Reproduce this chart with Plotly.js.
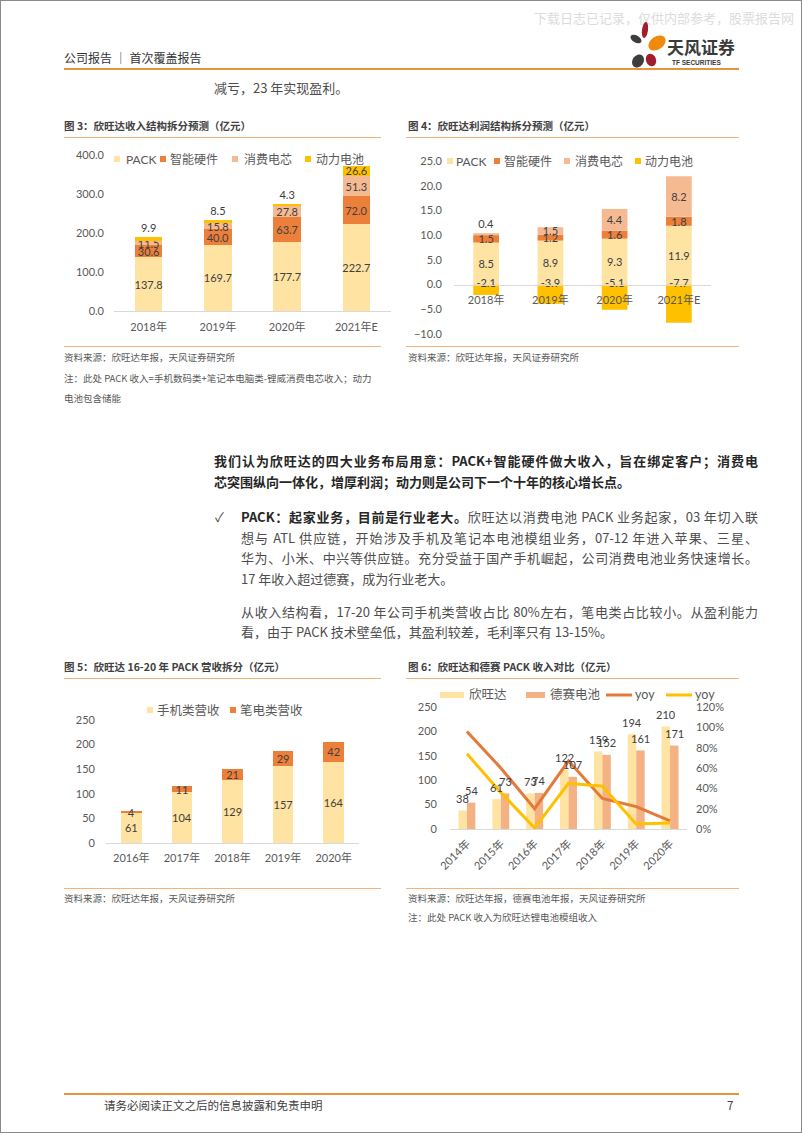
<!DOCTYPE html>
<html><head><meta charset="utf-8">
<script src="https://cdn.plot.ly/plotly-3.0.1.min.js"></script>
<style>
html,body{margin:0;padding:0;background:#fff;}
#page{position:relative;width:802px;height:1133px;overflow:hidden;box-sizing:border-box;border:1px solid #8a8a8a;font-family:"Noto Sans CJK SC",sans-serif;background:#fff;}
.abs{position:absolute;white-space:nowrap;}
.rule{position:absolute;height:1px;background:#F3B27E;}
.ftitle{font-size:10.5px;line-height:11px;font-weight:bold;color:#404040;}
.src{font-size:9.5px;line-height:9.5px;color:#595959;}
.txt{font-size:13px;line-height:13px;color:#4d4d4d;}
.bold{font-weight:bold;color:#262626;}
.j{text-align:justify;text-align-last:justify;}
.chart{position:absolute;}
</style></head>
<body>
<div id="page">
  <div class="abs" style="left:533px;top:10px;font-size:13px;line-height:13px;color:#dcdcdc;">下载日志已记录，仅供内部参考，股票报告网</div>
  <div class="abs" style="left:63px;top:51px;font-size:12px;line-height:12px;color:#333;">公司报告 ｜ 首次覆盖报告</div>
  <svg class="abs" style="left:626px;top:20px" width="45" height="52" viewBox="0 0 45 52">
    <ellipse cx="9" cy="18" rx="6" ry="3.6" fill="#3d3d3d" transform="rotate(30 9 18)"/>
    <ellipse cx="18" cy="9" rx="3" ry="8" fill="#a01d2d" transform="rotate(8 18 9)"/>
    <ellipse cx="30" cy="22" rx="9.5" ry="6.5" fill="#f08a0f" transform="rotate(-35 30 22)"/>
    <ellipse cx="11" cy="40" rx="5.5" ry="7" fill="#3d3d3d" transform="rotate(35 11 40)"/>
    <ellipse cx="24" cy="39" rx="5" ry="6.5" fill="#a01d2d" transform="rotate(-20 24 39)"/>
  </svg>
  <div class="abs" style="left:666px;top:37px;font-size:17px;line-height:17px;font-weight:bold;color:#3a3a3a;">天风证券</div>
  <div class="abs" style="left:671px;top:58px;font-size:6.5px;line-height:7px;font-weight:bold;color:#3a3a3a;font-family:'Liberation Sans',sans-serif;">TF SECURITIES</div>
  <div class="abs" style="left:63px;top:67px;width:675px;height:2px;background:#E8923A;"></div>
  <div class="abs txt" style="left:213px;top:80px;">减亏，23 年实现盈利。</div>

  <!-- figure 3 -->
  <div class="abs ftitle" style="left:63px;top:119px;">图 3：欣旺达收入结构拆分预测（亿元）</div>
  <div class="rule" style="left:63px;top:136px;width:317px;"></div>
  <div id="c3" class="chart" style="left:60px;top:140px;width:335px;height:200px;"></div>
  <div class="rule" style="left:63px;top:345px;width:317px;"></div>
  <div class="abs src" style="left:63px;top:352px;">资料来源：欣旺达年报，天风证券研究所</div>
  <div class="abs src" style="left:63px;top:373px;">注：此处 PACK 收入=手机数码类+笔记本电脑类-锂威消费电芯收入；动力</div>
  <div class="abs src" style="left:63px;top:393px;">电池包含储能</div>

  <!-- figure 4 -->
  <div class="abs ftitle" style="left:407px;top:119px;">图 4：欣旺达利润结构拆分预测（亿元）</div>
  <div class="rule" style="left:405px;top:136px;width:333px;"></div>
  <div id="c4" class="chart" style="left:398px;top:140px;width:340px;height:205px;"></div>
  <div class="rule" style="left:405px;top:345px;width:333px;"></div>
  <div class="abs src" style="left:407px;top:352px;">资料来源：欣旺达年报，天风证券研究所</div>

  <!-- body text -->
  <div class="abs txt bold j" style="left:213px;top:453px;width:544px;">我们认为欣旺达的四大业务布局用意：PACK+智能硬件做大收入，旨在绑定客户；消费电</div>
  <div class="abs txt bold" style="left:213px;top:474px;">芯突围纵向一体化，增厚利润；动力则是公司下一个十年的核心增长点。</div>
  <div class="abs txt" style="left:214px;top:509px;">✓</div>
  <div class="abs txt j" style="left:240px;top:509px;width:517px;"><span class="bold">PACK：起家业务，目前是行业老大。</span>欣旺达以消费电池 PACK 业务起家，03 年切入联</div>
  <div class="abs txt j" style="left:240px;top:530px;width:517px;">想与 ATL 供应链，开始涉及手机及笔记本电池模组业务，07-12 年进入苹果、三星、</div>
  <div class="abs txt j" style="left:240px;top:550px;width:517px;">华为、小米、中兴等供应链。充分受益于国产手机崛起，公司消费电池业务快速增长。</div>
  <div class="abs txt" style="left:240px;top:571px;">17 年收入超过德赛，成为行业老大。</div>
  <div class="abs txt j" style="left:240px;top:604px;width:517px;">从收入结构看，17-20 年公司手机类营收占比 80%左右，笔电类占比较小。从盈利能力</div>
  <div class="abs txt" style="left:240px;top:624px;">看，由于 PACK 技术壁垒低，其盈利较差，毛利率只有 13-15%。</div>

  <!-- figure 5 -->
  <div class="abs ftitle" style="left:63px;top:660px;">图 5：欣旺达 16-20 年 PACK 营收拆分（亿元）</div>
  <div class="rule" style="left:63px;top:677px;width:317px;"></div>
  <div id="c5" class="chart" style="left:60px;top:680px;width:305px;height:200px;"></div>
  <div class="rule" style="left:63px;top:887px;width:317px;"></div>
  <div class="abs src" style="left:63px;top:893px;">资料来源：欣旺达年报，天风证券研究所</div>

  <!-- figure 6 -->
  <div class="abs ftitle" style="left:407px;top:660px;">图 6：欣旺达和德赛 PACK 收入对比（亿元）</div>
  <div class="rule" style="left:405px;top:677px;width:333px;"></div>
  <div id="c6" class="chart" style="left:398px;top:680px;width:340px;height:200px;"></div>
  <div class="rule" style="left:405px;top:887px;width:333px;"></div>
  <div class="abs src" style="left:407px;top:893px;">资料来源：欣旺达年报，德赛电池年报，天风证券研究所</div>
  <div class="abs src" style="left:407px;top:912px;">注：此处 PACK 收入为欣旺达锂电池模组收入</div>

  <!-- footer -->
  <div class="abs" style="left:63px;top:1092px;width:675px;height:2px;background:#E8923A;"></div>
  <div class="abs" style="left:103px;top:1099px;font-size:11.5px;line-height:11.5px;color:#404040;">请务必阅读正文之后的信息披露和免责申明</div>
  <div class="abs" style="left:726px;top:1099px;font-size:11.5px;line-height:11.5px;color:#404040;">7</div>
</div>
<script>
// ---------- data ----------
const f3Cats = ['2018年','2019年','2020年','2021年E'];
const f3Pack = [137.8,169.7,177.7,222.7];
const f3Smart = [30.6,40.0,63.7,72.0];
const f3Cell = [11.5,15.8,27.8,51.3];
const f3Power = [9.9,8.5,4.3,26.6];

const f4Cats = ['2018年','2019年','2020年','2021年E'];
const f4Pack = [8.5,8.9,9.3,11.9];
const f4Smart = [1.5,1.2,1.6,1.8];
const f4Cell = [0.4,1.5,4.4,8.2];
const f4Power = [-2.1,-3.9,-5.1,-7.7];

const segNames = ['PACK','智能硬件','消费电芯','动力电池'];

const f5Cats = ['2016年','2017年','2018年','2019年','2020年'];
const f5Phone = [61,104,129,157,164];
const f5Laptop = [4,11,21,29,42];
const f5Names = ['手机类营收','笔电类营收'];

const f6Cats = ['2014年','2015年','2016年','2017年','2018年','2019年','2020年'];
const f6Sunwoda = [38,61,73,122,159,194,210];
const f6Desay = [54,73,74,107,152,161,171];
const f6YoySunwoda = [0.96,0.60,0.20,0.67,0.30,0.22,0.08];
const f6YoyDesay = [0.74,0.36,0.01,0.45,0.42,0.05,0.06];
const f6Names = ['欣旺达','德赛电池','yoy','yoy'];

// ---------- style ----------
const FONT = "Lato, 'Noto Sans CJK SC', sans-serif";
const AXC = '#595959', LBLC = '#404040';
const C_PACK = '#FFE3A3', C_SMART = '#EC7F3A', C_CELL = '#F6BA93', C_POWER = '#FFC000';
const C_DESAY = '#F4B183', C_YOY1 = '#E4793A', C_YOY2 = '#FFC000';
const cfg = {staticPlot:true, displayModeBar:false};

function spec(left, top, width, height, l, r, t, b){
  return {left, top, width, height, margin:{l,r,t,b,pad:0}, pw:width-l-r, ph:height-t-b};
}
function px(s, X){ return (X - s.left - s.margin.l)/s.pw; }
function py(s, Y){ return 1 - (Y - s.top - s.margin.t)/s.ph; }

// custom legend: entries [name,color,kind,xSymbolLeft,xText]
function legendBits(s, entries, Y, fs){
  const shapes = [], anns = [];
  entries.forEach(e => {
    const [name,color,kind,xs,xt] = e;
    if(kind==='sq'){
      shapes.push({type:'rect',xref:'paper',yref:'paper',x0:px(s,xs),x1:px(s,xs+6),y0:py(s,Y+3),y1:py(s,Y-3),fillcolor:color,line:{width:0}});
    } else if(kind==='rect'){
      shapes.push({type:'rect',xref:'paper',yref:'paper',x0:px(s,xs),x1:px(s,xt-4),y0:py(s,Y+3),y1:py(s,Y-3),fillcolor:color,line:{width:0}});
    } else {
      shapes.push({type:'line',xref:'paper',yref:'paper',x0:px(s,xs),x1:px(s,xt-2),y0:py(s,Y),y1:py(s,Y),line:{color:color,width:3}});
    }
    anns.push({xref:'paper',yref:'paper',x:px(s,xt),y:py(s,Y),xanchor:'left',yanchor:'middle',text:name,showarrow:false,borderpad:0,font:{family:FONT,size:fs,color:AXC}});
  });
  return {shapes, anns};
}

function barTrace(x, y, name, color, extra){
  return Object.assign({type:'bar', x, y, name, marker:{color, line:{width:0}},
    texttemplate:'%{y}', textposition:'inside', insidetextanchor:'middle', constraintext:'none', textangle:0,
    textfont:{family:FONT,size:11,color:LBLC}, cliponaxis:false, hoverinfo:'skip'}, extra||{});
}

// ---------- figure 3 ----------
(function(){
  const s = spec(60,140,335,200,53,5,14,30);
  const lg = legendBits(s, [
    [segNames[0],C_PACK,'sq',113,124],
    [segNames[1],C_SMART,'sq',159,168],
    [segNames[2],C_CELL,'sq',231,242],
    [segNames[3],C_POWER,'sq',304,314]
  ], 158, 12);
  const data = [
    barTrace(f3Cats,f3Pack,segNames[0],C_PACK,{texttemplate:'%{y:.1f}'}),
    barTrace(f3Cats,f3Smart,segNames[1],C_SMART,{texttemplate:'%{y:.1f}'}),
    barTrace(f3Cats,f3Cell,segNames[2],C_CELL,{texttemplate:'%{y:.1f}'}),
    barTrace(f3Cats,f3Power,segNames[3],C_POWER,{texttemplate:'%{y:.1f}',textposition:['outside','outside','outside','inside'],outsidetextfont:{family:FONT,size:11,color:LBLC}})
  ];
  const layout = {width:s.width,height:s.height,margin:s.margin,barmode:'stack',bargap:0.6,showlegend:false,
    paper_bgcolor:'rgba(0,0,0,0)',plot_bgcolor:'rgba(0,0,0,0)',font:{family:FONT,size:11,color:AXC},
    xaxis:{type:'category',showline:true,linecolor:'#D9D9D9',linewidth:1,ticks:'',showgrid:false,zeroline:false,ticklabelstandoff:6,tickfont:{size:11,color:AXC}},
    yaxis:{range:[0,400],dtick:100,tickformat:'.1f',showgrid:false,zeroline:false,ticks:'',showline:false,ticklabelstandoff:9,tickfont:{size:11,color:AXC}},
    shapes:lg.shapes, annotations:lg.anns};
  Plotly.newPlot('c3',data,layout,cfg);
})();

// ---------- figure 4 ----------
(function(){
  const s = spec(398,140,340,205,55,28,20,12);
  const lg = legendBits(s, [
    [segNames[0],C_PACK,'sq',446,454],
    [segNames[1],C_SMART,'sq',493,502],
    [segNames[2],C_CELL,'sq',563,573],
    [segNames[3],C_POWER,'sq',634,643]
  ], 160, 12);
  const data = [
    barTrace(f4Cats,f4Pack,segNames[0],C_PACK,{texttemplate:'%{y:.1f}'}),
    barTrace(f4Cats,f4Smart,segNames[1],C_SMART,{texttemplate:'%{y:.1f}'}),
    barTrace(f4Cats,f4Cell,segNames[2],C_CELL,{texttemplate:'%{y:.1f}',textposition:['outside','inside','inside','inside'],outsidetextfont:{family:FONT,size:11,color:LBLC}}),
    barTrace(f4Cats,f4Power,segNames[3],C_POWER,{texttemplate:'',textposition:'none'}),
    {type:'scatter',mode:'text',x:f4Cats,y:f4Power.map(()=>0),text:f4Power.map(v=>v.toFixed(1)),textposition:'middle center',
     textfont:{family:FONT,size:11,color:LBLC},showlegend:false,hoverinfo:'skip',cliponaxis:false}
  ];
  const layout = {width:s.width,height:s.height,margin:s.margin,barmode:'relative',bargap:0.6,showlegend:false,
    paper_bgcolor:'rgba(0,0,0,0)',plot_bgcolor:'rgba(0,0,0,0)',font:{family:FONT,size:11,color:AXC},
    xaxis:{type:'category',anchor:'free',position:10/35,showline:true,linecolor:'#D9D9D9',linewidth:1,ticks:'',showgrid:false,zeroline:false,ticklabelstandoff:5,tickfont:{size:11,color:AXC}},
    yaxis:{range:[-10,25],dtick:5,tickformat:'.1f',showgrid:false,zeroline:false,ticks:'',showline:false,ticklabelstandoff:11,tickfont:{size:11,color:AXC}},
    shapes:lg.shapes, annotations:lg.anns};
  Plotly.newPlot('c4',data,layout,cfg);
})();

// ---------- figure 5 ----------
(function(){
  const s = spec(60,680,305,200,45,7,39,38);
  const lg = legendBits(s, [
    [f5Names[0],C_PACK,'sq',146,155],
    [f5Names[1],C_SMART,'sq',229,238]
  ], 709, 12.5);
  const data = [
    barTrace(f5Cats,f5Phone,f5Names[0],C_PACK),
    barTrace(f5Cats,f5Laptop,f5Names[1],C_SMART)
  ];
  const layout = {width:s.width,height:s.height,margin:s.margin,barmode:'stack',bargap:0.59,showlegend:false,
    paper_bgcolor:'rgba(0,0,0,0)',plot_bgcolor:'rgba(0,0,0,0)',font:{family:FONT,size:11,color:AXC},
    xaxis:{type:'category',showline:true,linecolor:'#D9D9D9',linewidth:1,ticks:'',showgrid:false,zeroline:false,ticklabelstandoff:5,tickfont:{size:11,color:AXC}},
    yaxis:{range:[0,250],dtick:50,showgrid:false,zeroline:false,ticks:'',showline:false,ticklabelstandoff:10,tickfont:{size:11,color:AXC}},
    shapes:lg.shapes, annotations:lg.anns};
  Plotly.newPlot('c5',data,layout,cfg);
})();

// ---------- figure 6 ----------
(function(){
  const s = spec(398,680,340,200,51,52,26,52);
  const lg = legendBits(s, [
    [f6Names[0],C_PACK,'rect',439,467],
    [f6Names[1],C_DESAY,'rect',525,548],
    [f6Names[2],C_YOY1,'line',605,633],
    [f6Names[3],C_YOY2,'line',665,693]
  ], 694, 12.5);
  const barHalf = s.pw / f6Cats.length * 0.25 / 2;
  const lab = (vals, dx) => vals.map((v,i) => ({xref:'x',yref:'y',x:f6Cats[i],y:v,xshift:dx,yshift:12,yanchor:'middle',xanchor:'center',
    text:String(v),showarrow:false,borderpad:0,font:{family:FONT,size:11,color:LBLC}}));
  const data = [
    barTrace(f6Cats,f6Sunwoda,f6Names[0],C_PACK,{texttemplate:'',textposition:'none'}),
    barTrace(f6Cats,f6Desay,f6Names[1],C_DESAY,{texttemplate:'',textposition:'none'}),
    {type:'scatter',mode:'lines',x:f6Cats,y:f6YoySunwoda,name:f6Names[2],yaxis:'y2',line:{color:C_YOY1,width:3},hoverinfo:'skip',cliponaxis:false},
    {type:'scatter',mode:'lines',x:f6Cats,y:f6YoyDesay,name:f6Names[3],yaxis:'y2',line:{color:C_YOY2,width:3},hoverinfo:'skip',cliponaxis:false}
  ];
  const layout = {width:s.width,height:s.height,margin:s.margin,barmode:'group',bargap:0.5,bargroupgap:0,showlegend:false,
    paper_bgcolor:'rgba(0,0,0,0)',plot_bgcolor:'rgba(0,0,0,0)',font:{family:FONT,size:11,color:AXC},
    xaxis:{type:'category',showline:true,linecolor:'#D9D9D9',linewidth:1,ticks:'',showgrid:false,zeroline:false,tickangle:-45,ticklabelstandoff:3,tickfont:{size:11,color:AXC}},
    yaxis:{range:[0,250],dtick:50,showgrid:false,zeroline:false,ticks:'',showline:false,ticklabelstandoff:12,tickfont:{size:11,color:AXC}},
    yaxis2:{overlaying:'y',side:'right',range:[0,1.2],dtick:0.2,tickformat:'.0%',showgrid:false,zeroline:false,ticks:'',showline:false,ticklabelstandoff:8,tickfont:{size:11,color:AXC}},
    shapes:lg.shapes, annotations:lg.anns.concat(lab(f6Sunwoda,-barHalf), lab(f6Desay,barHalf))};
  Plotly.newPlot('c6',data,layout,cfg);
})();
</script>
</body></html>
